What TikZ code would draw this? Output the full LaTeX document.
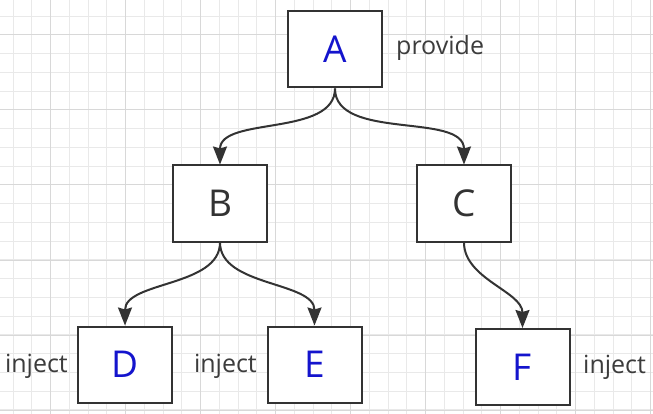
\documentclass[tikz,border=0pt]{standalone}
\usepackage{fontspec}
\setmainfont{Open Sans}
\usetikzlibrary{arrows.meta}
\definecolor{gridMinor}{RGB}{233,233,233}
\definecolor{gridMajor}{RGB}{216,216,216}
\definecolor{boxGray}{RGB}{51,51,51}
\definecolor{letterBlue}{RGB}{20,20,205}
\definecolor{labGray}{RGB}{60,60,60}
\tikzset{
  link/.style={draw=boxGray,line width=2pt,
    arrows={-Stealth[length=18pt,width=14pt,inset=2pt]},
    out=-90,in=90,looseness=0.9}}
\begin{document}
\begin{tikzpicture}[x=1pt,y=-1pt,
    box/.style={draw=boxGray,line width=2pt,fill=white,minimum width=94pt,
      minimum height=76pt,inner sep=0pt,font=\fontsize{37}{40}\selectfont},
    lab/.style={text=labGray,inner sep=0pt,font=\fontsize{25}{28}\selectfont}]
  \useasboundingbox (0,0) rectangle (653,414);
  \fill[white] (0,0) rectangle (653,414);
  % grid
  \foreach \i in {0,...,34}
    \draw[gridMinor,line width=1pt] ({13.1+18.75*\i},0) -- ({13.1+18.75*\i},414);
  \foreach \j in {0,...,21}
    \draw[gridMinor,line width=1pt] (0,{16.2+18.75*\j}) -- (653,{16.2+18.75*\j});
  \foreach \x in {50.6,125.6,...,653}
    \draw[gridMajor,line width=1pt] (\x,0) -- (\x,414);
  \foreach \y in {35,110,...,414}
    \draw[gridMajor,line width=1pt] (0,\y) -- (653,\y);
  % boxes
  \foreach \name/\x/\y/\col in {
      A/335/49.5/letterBlue,
      B/220/203.5/boxGray,
      C/464/203.5/boxGray,
      D/125/364.5/letterBlue,
      E/314.5/364.5/letterBlue,
      F/522.5/367/letterBlue}
    \node[box,text=\col] (\name) at (\x,\y) {\name};
  % labels
  \node[lab,anchor=west] (provA) at (396,48) {provide};
  \node[lab,anchor=east] (injD) at (68,366) {inject};
  \node[lab,anchor=east] (injE) at (257,366) {inject};
  \node[lab,anchor=west] (injF) at (583,367) {inject};
  % arrows
  \foreach \from/\to in {A/B,A/C,B/D,B/E,C/F}
    \draw[link] (\from.south) to (\to.north);
\end{tikzpicture}
\end{document}
